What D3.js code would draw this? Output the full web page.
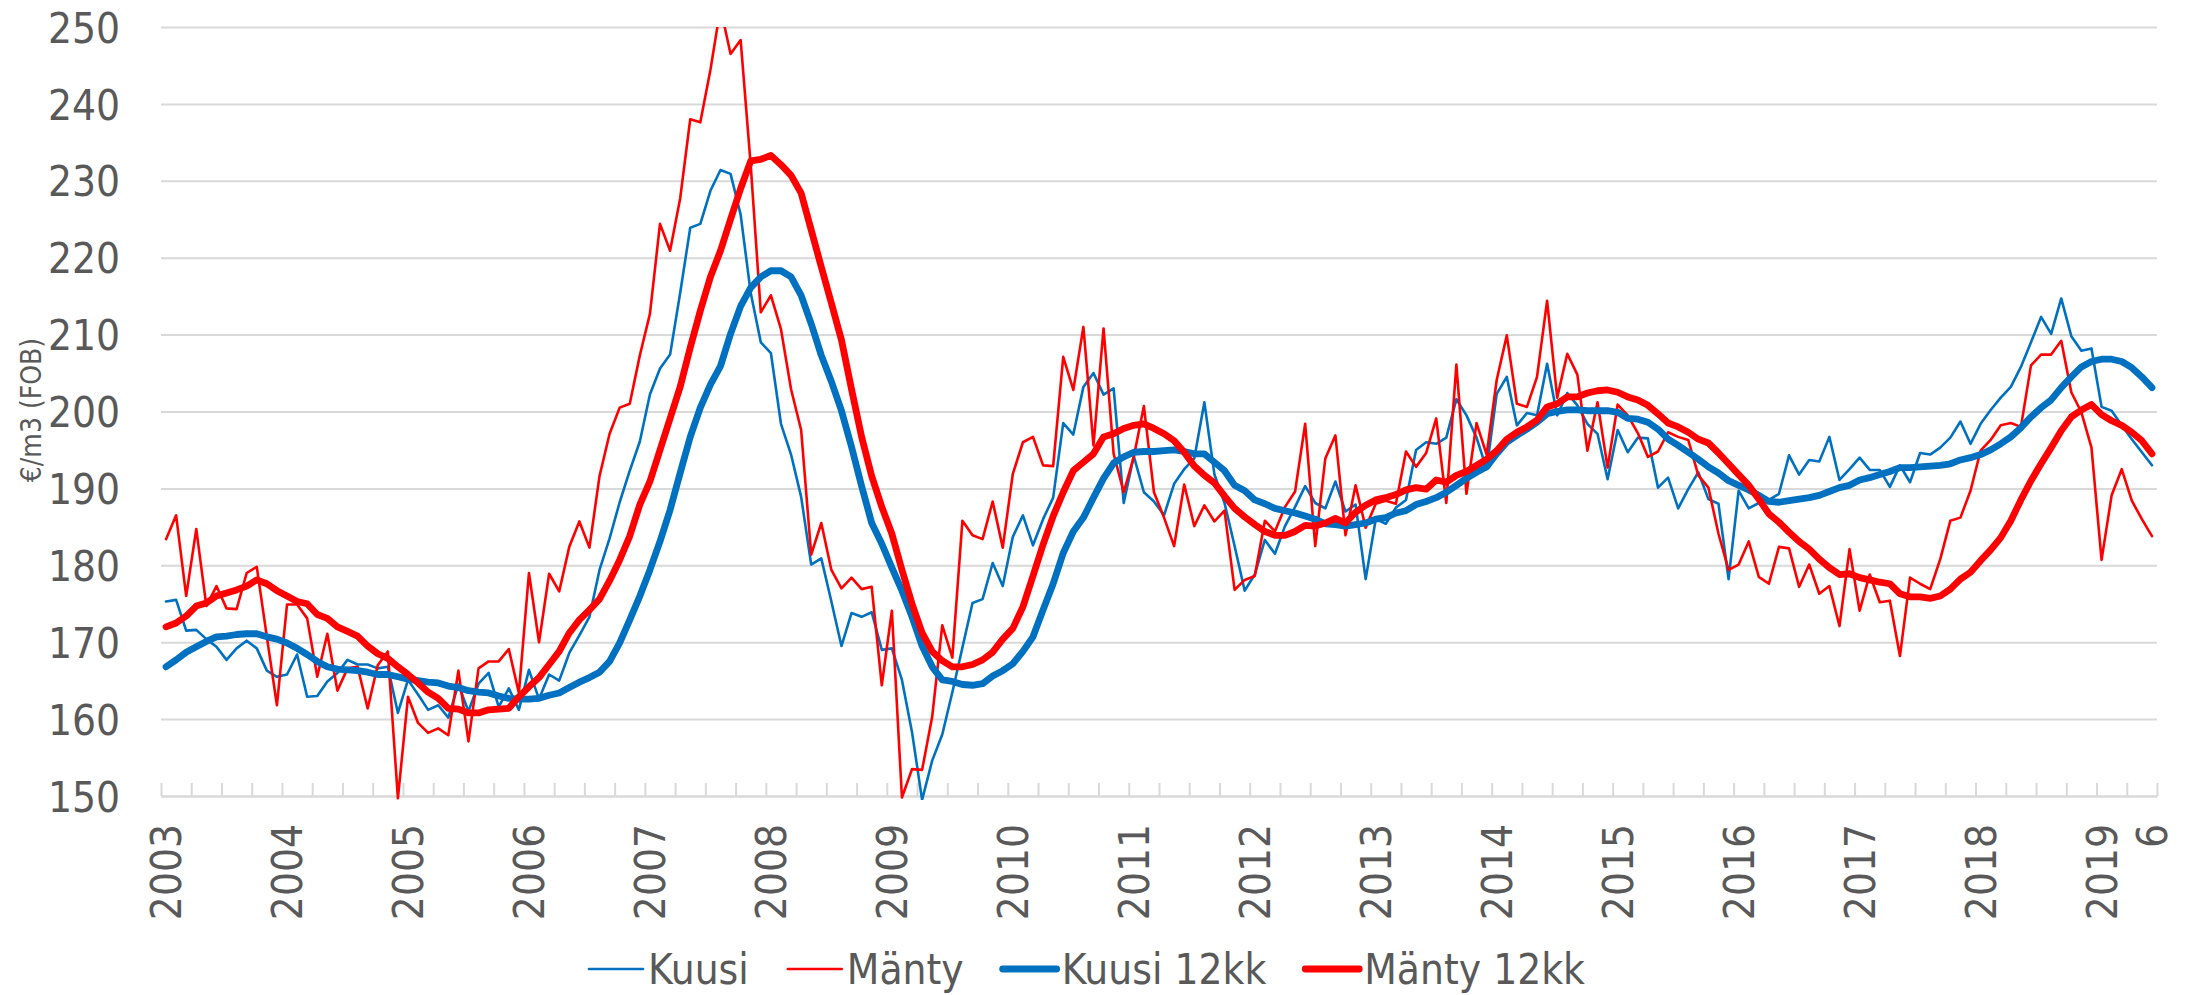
<!DOCTYPE html>
<html>
<head>
<meta charset="utf-8">
<script src="https://cdnjs.cloudflare.com/ajax/libs/d3/7.8.5/d3.min.js"></script>
<style>
  body { margin: 0; background: #fff; }
  svg text { font-family: "DejaVu Sans Condensed", "DejaVu Sans", sans-serif; fill: #595959; }
</style>
</head>
<body>
<div id="chart"></div>
<script>
// monthly prices, 2003-01 .. 2019-06 (one row per year)
var startYear = 2003;

var kuusi = [
  175.3,175.5,171.5,171.6,170.4,169.4,167.7,169.2,170.2,169.2,166.3,165.5,
  165.8,168.4,162.9,163.0,164.9,166.0,167.7,167.1,167.1,166.6,166.8,160.8,
  165.1,163.2,161.2,161.8,160.2,164.5,161.0,164.6,166.0,161.6,164.0,161.2,
  166.4,162.6,165.8,165.0,168.6,170.9,173.3,179.4,183.5,188.2,192.3,196.1,
  202.2,205.6,207.4,215.4,223.9,224.4,228.7,231.4,230.9,225.6,215.4,209.0,
  207.6,198.4,194.4,188.9,180.1,180.9,175.3,169.5,173.8,173.3,173.9,169.0,
  169.2,165.1,158.3,149.5,154.6,158.0,163.5,169.3,175.1,175.6,180.3,177.3,
  183.7,186.5,182.6,186.0,188.8,198.5,197.0,203.2,205.0,202.2,203.0,188.1,
  194.2,189.5,188.3,186.5,190.6,192.5,193.9,201.2,191.8,188.1,182.5,176.7,
  178.8,183.3,181.5,185.1,187.6,190.3,188.1,187.4,190.9,187.0,187.9,178.2,
  186.0,185.4,187.5,188.5,195.0,196.0,195.8,196.6,201.6,199.5,196.6,192.5,
  202.3,204.5,198.2,199.8,199.5,206.2,199.5,202.4,200.8,198.4,197.1,191.2,
  197.6,194.7,196.6,196.5,190.1,191.4,187.4,189.9,192.1,188.6,188.0,178.2,
  189.7,187.4,188.1,188.5,189.3,194.3,191.8,193.7,193.5,196.7,191.1,192.5,
  194.0,192.4,192.4,190.2,193.0,190.8,194.6,194.4,195.3,196.6,198.7,195.8,
  198.4,200.2,201.8,203.2,205.8,209.0,212.3,210.1,214.7,209.8,207.9,208.2,
  200.6,200.1,198.2,196.4,194.7,193.0
];

var manty = [
  183.4,186.5,176.0,184.7,174.7,177.3,174.4,174.3,179.0,179.8,170.7,161.8,
  174.9,174.9,173.1,165.5,171.1,163.7,166.6,166.8,161.4,167.0,168.8,149.7,
  162.9,159.5,158.2,158.8,157.9,166.3,157.1,166.6,167.5,167.5,169.1,163.4,
  179.0,170.0,178.9,176.6,182.4,185.7,182.3,191.6,197.1,200.5,201.0,207.3,
  212.7,224.4,220.9,227.7,238.0,237.6,244.4,252.5,246.5,248.3,232.0,212.9,
  215.1,210.7,202.9,197.6,181.4,185.5,179.4,177.0,178.4,176.9,177.2,164.4,
  174.1,149.8,153.5,153.4,160.3,172.2,168.0,185.8,183.9,183.4,188.3,182.3,
  191.9,196.0,196.7,193.0,192.9,207.1,202.8,211.0,195.6,210.8,194.5,189.5,
  194.1,200.7,189.5,186.2,182.5,190.5,185.1,187.8,185.7,187.1,176.8,178.1,
  178.6,185.8,184.4,187.6,189.6,198.4,182.5,193.9,196.9,183.9,190.4,184.9,
  188.0,188.4,188.0,194.8,192.8,194.6,199.1,188.1,206.1,189.3,198.5,194.4,
  204.1,209.9,201.0,200.6,204.5,214.4,201.8,207.5,204.8,194.9,201.2,192.7,
  200.9,199.5,197.2,194.1,194.8,197.3,196.7,196.3,191.7,190.1,184.1,179.4,
  180.1,183.1,178.5,177.6,182.4,182.2,177.2,180.1,176.3,177.3,172.1,182.1,
  174.1,178.8,175.2,175.4,168.2,178.4,177.6,176.9,180.8,185.8,186.2,189.7,
  194.9,196.3,198.2,198.5,198.0,206.0,207.4,207.4,209.2,202.5,199.9,195.3,
  180.7,189.1,192.5,188.4,186.0,183.8
];

var kuusi12 = [
  166.8,167.7,168.7,169.4,170.1,170.7,170.8,171.0,171.1,171.1,170.7,170.4,
  169.9,169.2,168.4,167.5,166.8,166.5,166.4,166.3,166.1,165.8,165.8,165.5,
  165.2,165.0,164.8,164.7,164.3,164.1,163.7,163.5,163.4,163.0,162.7,162.6,
  162.6,162.7,163.1,163.4,164.1,164.8,165.4,166.1,167.5,169.9,172.9,176.0,
  179.4,183.1,187.2,192.0,196.7,200.5,203.5,205.9,210.1,213.7,216.1,217.5,
  218.3,218.3,217.5,215.1,211.4,207.3,203.9,200.1,195.4,190.3,185.5,182.8,
  179.7,176.7,173.3,169.5,166.8,165.1,164.9,164.5,164.4,164.6,165.6,166.3,
  167.2,168.8,170.7,174.2,177.6,181.6,184.4,186.2,188.8,191.3,193.3,194.1,
  194.7,194.8,194.8,194.9,195.0,194.8,194.5,194.5,193.4,192.3,190.4,189.7,
  188.5,188.0,187.4,187.1,186.8,186.4,186.0,185.4,185.3,185.1,185.3,185.5,
  186.0,186.2,186.8,187.1,187.9,188.3,188.8,189.5,190.4,191.3,192.1,192.8,
  194.5,196.0,196.9,197.7,198.6,199.7,200.0,200.2,200.2,200.1,200.1,200.1,
  199.9,199.1,199.0,198.6,197.7,196.4,195.6,194.7,193.8,192.8,192.0,191.0,
  190.4,189.8,189.1,188.3,188.2,188.4,188.6,188.8,189.1,189.6,190.1,190.4,
  191.1,191.4,191.8,192.2,192.7,192.7,192.8,192.9,193.0,193.2,193.7,194.0,
  194.4,195.0,195.8,196.7,197.9,199.3,200.5,201.5,203.1,204.5,205.8,206.5,
  206.8,206.8,206.5,205.7,204.5,203.1
];

var manty12 = [
  172.0,172.5,173.4,174.7,175.1,176.0,176.4,176.8,177.3,178.1,177.6,176.7,
  176.0,175.3,175.0,173.6,173.1,172.0,171.4,170.8,169.5,168.5,167.9,166.8,
  165.8,164.7,163.5,162.7,161.4,161.3,160.8,160.8,161.2,161.3,161.4,162.9,
  164.2,165.4,167.1,168.8,171.2,172.9,174.2,175.6,178.0,180.7,183.8,187.9,
  190.9,195.0,199.1,203.2,208.3,213.1,217.5,220.9,225.0,229.0,232.6,232.8,
  233.3,232.1,230.7,228.4,223.6,218.8,214.1,209.3,202.9,196.7,191.6,187.6,
  184.1,179.4,175.0,171.2,168.8,167.6,166.8,166.8,167.1,167.7,168.7,170.4,
  171.8,174.6,178.6,182.7,186.4,189.5,192.3,193.4,194.5,196.7,197.1,197.8,
  198.2,198.4,197.8,197.1,196.2,194.7,192.9,191.7,190.7,189.0,187.4,186.3,
  185.3,184.4,183.9,183.9,184.4,185.2,185.1,185.5,186.1,185.5,186.9,187.8,
  188.5,188.8,189.2,189.8,190.1,189.9,191.1,190.8,191.7,192.2,193.0,193.8,
  194.9,196.4,197.3,198.0,198.9,200.6,201.0,201.9,201.9,202.4,202.7,202.8,
  202.5,201.9,201.5,200.8,199.7,198.5,198.0,197.3,196.4,195.9,194.6,193.2,
  191.8,190.4,188.6,186.7,185.6,184.3,183.1,182.1,180.8,179.7,178.8,178.9,
  178.4,178.1,177.8,177.6,176.3,175.9,175.9,175.7,176.0,176.9,178.2,179.1,
  180.6,182.0,183.6,185.8,188.5,191.0,193.2,195.3,197.5,199.3,200.2,200.9,
  199.6,198.8,198.2,197.3,196.2,194.5
];

var yTicks = [150, 160, 170, 180, 190, 200, 210, 220, 230, 240, 250];
var lastMonthLabel = "6";
var yTitle = "€/m3 (FOB)";

var series = [
  { name: "Kuusi", values: kuusi, color: "#0070c0", width: 2.6 },
  { name: "Mänty", values: manty, color: "#ff0000", width: 2.6 },
  { name: "Kuusi 12kk", values: kuusi12, color: "#0070c0", width: 6.8 },
  { name: "Mänty 12kk", values: manty12, color: "#ff0000", width: 6.8 }
];

var width = 2201, height = 995;
var plot = { left: 161, right: 2157, top: 27, bottom: 796 };
var fontSize = 42;
var grid = "#d9d9d9";

// category labels: year at each January, month number at the end
var nMonths = kuusi.length;
var catLabels = d3.range(nMonths).map(function(i) {
  if (i % 12 === 0) return String(startYear + i / 12);
  if (i === nMonths - 1) return lastMonthLabel;
  return "";
});

var svg = d3.select("#chart").append("svg")
  .attr("width", width)
  .attr("height", height);

var x = d3.scaleBand()
  .domain(d3.range(nMonths))
  .range([plot.left, plot.right]);
var xEdge = d3.scaleLinear().domain([0, nMonths]).range([plot.left, plot.right]);
var y = d3.scaleLinear().domain([150, 250]).range([plot.bottom, plot.top]);

function cx(i) { return x(i) + x.bandwidth() / 2; }

// y axis with horizontal gridlines
var yAxis = svg.append("g")
  .attr("transform", "translate(" + plot.left + ",0)")
  .call(d3.axisLeft(y)
    .tickValues(yTicks)
    .tickSize(-(plot.right - plot.left))
    .tickPadding(41)
    .tickFormat(d3.format("d")));
yAxis.select(".domain").remove();
yAxis.selectAll(".tick line").attr("stroke", grid).attr("stroke-width", 2);
yAxis.selectAll(".tick text")
  .attr("font-size", fontSize)
  .attr("dy", "0.36em")
  .style("font-family", null);

// x axis line with quarterly tick marks pointing up
var xAxis = svg.append("g")
  .attr("transform", "translate(0," + plot.bottom + ")")
  .call(d3.axisBottom(xEdge)
    .tickValues(d3.range(0, nMonths + 1, 3))
    .tickSize(-13)
    .tickSizeOuter(0)
    .tickFormat(""));
xAxis.select(".domain").attr("stroke", grid).attr("stroke-width", 2);
xAxis.selectAll(".tick line").attr("stroke", grid).attr("stroke-width", 2);

// rotated year labels
svg.append("g").selectAll("text")
  .data(catLabels.map(function(l, i) { return { label: l, i: i }; })
    .filter(function(d) { return d.label !== ""; }))
  .enter()
  .append("text")
    .attr("transform", function(d) { return "translate(" + cx(d.i) + ",824) rotate(-90)"; })
    .attr("text-anchor", "end")
    .attr("dy", "0.36em")
    .attr("font-size", fontSize)
    .text(function(d) { return d.label; });

// y axis title
svg.append("text")
  .attr("transform", "translate(31,410) rotate(-90)")
  .attr("text-anchor", "middle")
  .attr("dy", "0.36em")
  .attr("font-size", 28)
  .text(yTitle);

// lines
svg.append("clipPath").attr("id", "plotclip")
  .append("rect")
    .attr("x", plot.left - 6)
    .attr("y", plot.top)
    .attr("width", plot.right - plot.left + 12)
    .attr("height", plot.bottom - plot.top + 4);

var line = d3.line()
  .x(function(d, i) { return cx(i); })
  .y(function(d) { return y(d); });

svg.append("g")
  .attr("clip-path", "url(#plotclip)")
  .selectAll("path")
  .data(series)
  .enter()
  .append("path")
    .attr("d", function(s) { return line(s.values); })
    .attr("fill", "none")
    .attr("stroke", function(s) { return s.color; })
    .attr("stroke-width", function(s) { return s.width; })
    .attr("stroke-linejoin", "round")
    .attr("stroke-linecap", "round");

// legend
var legend = svg.append("g");
var lx = 589, ly = 969;
series.forEach(function(s) {
  legend.append("line")
    .attr("x1", lx).attr("x2", lx + 54)
    .attr("y1", ly).attr("y2", ly)
    .attr("stroke", s.color)
    .attr("stroke-width", s.width)
    .attr("stroke-linecap", "round");
  var t = legend.append("text")
    .attr("x", lx + 59)
    .attr("y", ly)
    .attr("dy", "0.36em")
    .attr("font-size", fontSize)
    .text(s.name);
  lx += 59 + t.node().getComputedTextLength() + 39;
});
</script>
</body>
</html>
